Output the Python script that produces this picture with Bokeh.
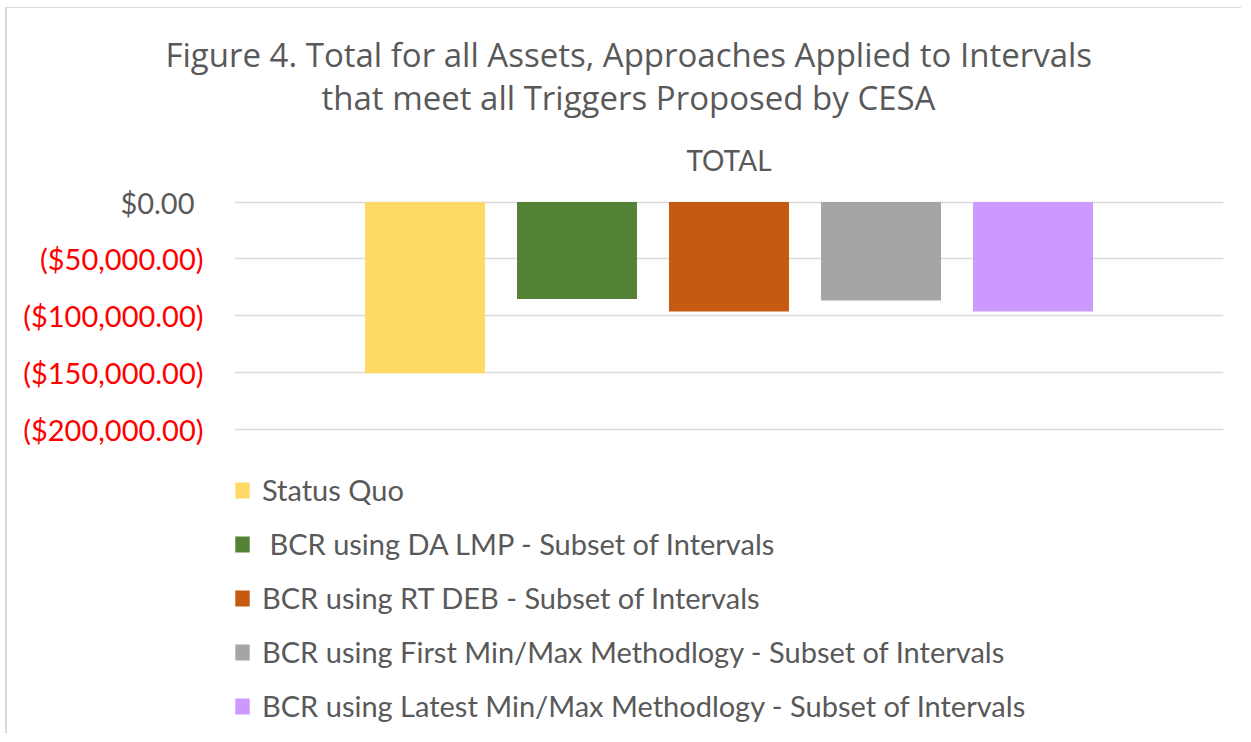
from bokeh.plotting import figure
from bokeh.models import (ColumnDataSource, FactorRange, Range1d, FixedTicker,
                          CustomJSTickFormatter, Legend, LegendItem, Title, LinearAxis)
from bokeh.transform import dodge
from bokeh.embed import file_html
from bokeh.resources import INLINE

# ---------------- data ----------------
title_lines = ["Figure 4. Total for all Assets, Approaches Applied to Intervals",
               "that meet all Triggers Proposed by CESA"]
category = ["TOTAL"]
series_names = ["Status Quo",
                " BCR using DA LMP - Subset of Intervals",
                "BCR using RT DEB - Subset of Intervals",
                "BCR using First Min/Max Methodlogy - Subset of Intervals",
                "BCR using Latest Min/Max Methodlogy - Subset of Intervals"]
series_values = [-150600, -85400, -96400, -86700, -96400]
series_colors = ["#FFD966", "#548235", "#C55A11", "#A5A5A5", "#CC99FF"]
y_ticks = [-200000, -150000, -100000, -50000, 0]

# ---------------- layout ----------------
FONT = "Lato"
TFONT = "Open Sans"
TXT = "#595959"
W, H = 1236, 726
frame_left, frame_right, frame_top, frame_bottom = 227, 1216, 181, 725
zero_px, m200_px = 193.5, 420.8
per_px = 200000.0 / (m200_px - zero_px)
y_end = (zero_px - frame_top) * per_px
y_start = -(frame_bottom - zero_px) * per_px

p = figure(width=W, height=H,
           x_range=FactorRange(*category, range_padding=0),
           y_range=Range1d(y_start, y_end),
           x_axis_location="above",
           output_backend="svg", toolbar_location=None,
           min_border_left=frame_left, min_border_right=W - frame_right,
           min_border_top=frame_top, min_border_bottom=H - frame_bottom)
p.styles = {"margin-left": "5px", "margin-top": "7px",
            "border-top": "1px solid #d9d9d9", "border-left": "2px solid #d9d9d9"}
p.outline_line_color = None
p.background_fill_color = "white"
p.border_fill_color = "white"

# bars
bar_w = 0.1213
step = 0.1537
n = len(series_names)
renderers = []
for i, (name, val, col) in enumerate(zip(series_names, series_values, series_colors)):
    src = ColumnDataSource(dict(x=category, top=[val]))
    off = (i - (n - 1) / 2) * step
    r = p.vbar(x=dodge("x", off, range=p.x_range), top="top", bottom=0,
               width=bar_w, source=src, fill_color=col, line_color=None)
    renderers.append(r)

# category axis (above)
xa = p.xaxis[0]
xa.axis_line_color = None
xa.major_tick_line_color = None
xa.major_tick_out = 0
xa.major_tick_in = 0
xa.minor_tick_line_color = None
xa.major_label_text_font = FONT
xa.major_label_text_font_size = "28px"
xa.major_label_text_color = TXT
xa.major_label_standoff = 13

# inner axis: only the $0.00 label (grey)
ya = p.yaxis[0]
ya.ticker = FixedTicker(ticks=y_ticks)
ya.formatter = CustomJSTickFormatter(code="""
return (tick == 0) ? "$0.00" : "";
""")
ya.axis_line_color = None
ya.major_tick_line_color = None
ya.major_tick_out = 0
ya.major_tick_in = 0
ya.minor_tick_line_color = None
ya.major_label_text_font = FONT
ya.major_label_text_font_size = "29px"
ya.major_label_text_color = TXT
ya.major_label_standoff = 40

# outer axis: negative values in red, shifted over the inner one
ya2 = LinearAxis(ticker=FixedTicker(ticks=[t for t in y_ticks if t < 0]),
                 formatter=CustomJSTickFormatter(code="""
const a = Math.abs(tick).toLocaleString('en-US', {minimumFractionDigits: 2, maximumFractionDigits: 2});
return tick < 0 ? "($" + a + ")" : "$" + a;
"""))
ya2.axis_line_color = None
ya2.major_tick_line_color = None
ya2.major_tick_out = 0
ya2.major_tick_in = 0
ya2.minor_tick_line_color = None
ya2.major_label_text_font = FONT
ya2.major_label_text_font_size = "29px"
ya2.major_label_text_color = "#FF0000"
ya2.major_label_standoff = -86
p.add_layout(ya2, "left")

p.xgrid.visible = False
p.ygrid.ticker = FixedTicker(ticks=y_ticks)
p.ygrid.grid_line_color = "#d9d9d9"
p.ygrid.grid_line_width = 1.5

# title (two lines)
t2 = Title(text=title_lines[1], align="left", offset=87, standoff=40,
           text_font=TFONT, text_font_size="33px", text_font_style="normal", text_color=TXT)
p.add_layout(t2, "above")
p.title.text = title_lines[0]
p.title.align = "left"
p.title.offset = -69
p.title.standoff = -49
p.title.text_font = TFONT
p.title.text_font_size = "33px"
p.title.text_font_style = "normal"
p.title.text_color = TXT

# legend
legend = Legend(items=[LegendItem(label=nm, renderers=[r]) for nm, r in zip(series_names, renderers)],
                location=(-1, 10), orientation="vertical",
                glyph_width=18, glyph_height=20, label_standoff=11,
                label_text_font=FONT, label_text_font_size="29px", label_text_color=TXT,
                spacing=19, padding=0, margin=0,
                border_line_color=None, background_fill_alpha=0)
p.add_layout(legend)

open("out.html", "w").write(file_html(p, INLINE))
